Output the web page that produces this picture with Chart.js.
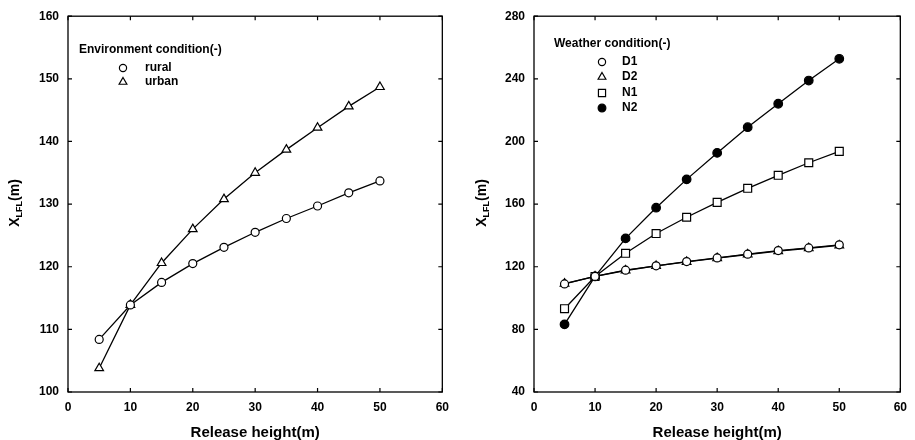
<!DOCTYPE html>
<html><head><meta charset="utf-8">
<script src="https://cdn.jsdelivr.net/npm/chart.js@4"></script>
<style>
html,body{margin:0;padding:0;background:#fff;}
#wrap{position:relative;width:915px;height:440px;overflow:hidden;}
.c{position:absolute;top:0;height:440px;}
</style></head><body>
<div id="wrap">
<div class="c" style="left:0;width:457px;"><canvas id="c1"></canvas></div>
<div class="c" style="left:457px;width:458px;"><canvas id="c2"></canvas></div>
</div>
<script>
// ---- data ----
const releaseHeights = [5, 10, 15, 20, 25, 30, 35, 40, 45, 50];
const rural = [108.4, 113.9, 117.5, 120.5, 123.1, 125.5, 127.7, 129.7, 131.8, 133.7];
const urban = [103.8, 113.9, 120.6, 126.0, 130.8, 135.0, 138.7, 142.2, 145.6, 148.7];
const weatherD1 = [109.0, 113.8, 117.8, 120.6, 123.3, 125.6, 128.0, 130.3, 132.0, 134.0];
const weatherD2 = [109.2, 113.8, 117.6, 120.5, 123.1, 125.5, 127.8, 130.0, 131.8, 133.6];
const weatherN1 = [93.2, 113.8, 128.6, 141.2, 151.6, 161.1, 170.1, 178.4, 186.4, 193.7];
const weatherN2 = [83.2, 113.8, 138.1, 157.7, 175.8, 192.7, 209.1, 224.1, 238.9, 252.8];
const xTicks = [0, 10, 20, 30, 40, 50, 60];
const leftYTicks = [100, 110, 120, 130, 140, 150, 160];
const rightYTicks = [40, 80, 120, 160, 200, 240, 280];
const xTitle = 'Release height(m)';
const leftLegendTitle = 'Environment condition(-)';
const rightLegendTitle = 'Weather condition(-)';

const FONT = '"Liberation Sans", Arial, Helvetica, sans-serif';

function pts(ys) { return releaseHeights.map((x, i) => ({x: x, y: ys[i]})); }

function ds(label, ys, style, radius, filled) {
  return {
    label: label, data: pts(ys), showLine: true,
    borderColor: '#000', borderWidth: 1.3,
    pointStyle: style, pointRadius: radius, pointHoverRadius: radius,
    pointBorderColor: '#000', pointBorderWidth: 1.2,
    pointBackgroundColor: filled ? '#000' : '#fff',
    backgroundColor: filled ? '#000' : '#fff',
    fill: false, tension: 0, clip: false
  };
}

function drawMarker(ctx, style, radius, filled, x, y) {
  ctx.save();
  ctx.fillStyle = filled ? '#000' : '#fff';
  ctx.strokeStyle = '#000';
  ctx.lineWidth = 1.2;
  Chart.helpers.drawPoint(ctx, {pointStyle: style, radius: radius, rotation: 0, borderWidth: 1.2}, x, y);
  ctx.restore();
}

function makeChart(id, opt) {
  const framePlugin = {
    id: 'frame' + id,
    afterDraw(chart) {
      const ctx = chart.ctx, a = chart.chartArea;
      const xs = chart.scales.x, ysc = chart.scales.y;
      ctx.save();
      ctx.strokeStyle = '#000';
      ctx.lineWidth = 1.3;
      ctx.strokeRect(a.left, a.top, a.right - a.left, a.bottom - a.top);
      ctx.lineWidth = 1.2;
      const tl = 4;
      ctx.beginPath();
      opt.xTicks.forEach(v => {
        const px = xs.getPixelForValue(v);
        ctx.moveTo(px, a.bottom); ctx.lineTo(px, a.bottom - tl);
        ctx.moveTo(px, a.top); ctx.lineTo(px, a.top + tl);
      });
      opt.yTicks.forEach(v => {
        const py = ysc.getPixelForValue(v);
        ctx.moveTo(a.left, py); ctx.lineTo(a.left + tl, py);
        ctx.moveTo(a.right, py); ctx.lineTo(a.right - tl, py);
      });
      ctx.stroke();

      // y title with subscript
      ctx.translate(opt.yTitleX, opt.yTitleY);
      ctx.rotate(-Math.PI / 2);
      ctx.fillStyle = '#000';
      ctx.textBaseline = 'middle';
      const f1 = 'bold 14px ' + FONT, f2 = 'bold 9px ' + FONT;
      ctx.font = f1; const w1 = ctx.measureText('X').width;
      ctx.font = f2; const w2 = ctx.measureText('LFL').width;
      ctx.font = f1; const w3 = ctx.measureText('(m)').width;
      let sx = -(w1 + w2 + w3) / 2;
      ctx.textAlign = 'left';
      ctx.font = f1; ctx.fillText('X', sx, 0); sx += w1;
      ctx.font = f2; ctx.fillText('LFL', sx, 5); sx += w2;
      ctx.font = f1; ctx.fillText('(m)', sx, 0);
      ctx.restore();

      // legend
      ctx.save();
      ctx.fillStyle = '#000';
      ctx.textBaseline = 'middle';
      ctx.textAlign = 'left';
      ctx.font = 'bold 12px ' + FONT;
      ctx.fillText(opt.legend.title, opt.legend.titleX, opt.legend.titleY);
      const dsets = chart.data.datasets;
      dsets.forEach((d, i) => {
        const y = opt.legend.itemY[i];
        drawMarker(ctx, d.pointStyle, d.pointRadius * 0.9, d.pointBackgroundColor === '#000', opt.legend.markerX, y);
        ctx.fillStyle = '#000';
        ctx.font = 'bold 12px ' + FONT;
        ctx.fillText(d.label, opt.legend.labelX, y);
      });
      ctx.restore();
    }
  };

  return new Chart(document.getElementById(id), {
    type: 'scatter',
    data: { datasets: opt.datasets },
    options: {
      responsive: true, maintainAspectRatio: false, animation: false,
      layout: { padding: opt.padding },
      plugins: { legend: { display: false }, tooltip: { enabled: false } },
      scales: {
        x: {
          type: 'linear', min: 0, max: 60,
          afterBuildTicks(s) { s.ticks = opt.xTicks.map(v => ({value: v})); },
          ticks: { padding: 8, color: '#000', font: { family: FONT, size: 12, weight: 'bold' } },
          grid: { display: false, drawTicks: false, tickLength: 0 }, border: { display: false },
          title: { display: true, text: xTitle, color: '#000', font: { family: FONT, size: 15, weight: 'bold' }, padding: { top: 0, bottom: -2 } },
          afterFit(s) { s.height = 48; }
        },
        y: {
          type: 'linear', min: opt.yTicks[0], max: opt.yTicks[opt.yTicks.length - 1],
          afterBuildTicks(s) { s.ticks = opt.yTicks.map(v => ({value: v})); },
          ticks: { padding: 9, color: '#000', font: { family: FONT, size: 12, weight: 'bold' } },
          grid: { display: false, drawTicks: false, tickLength: 0 }, border: { display: false },
          afterFit(s) { s.width = opt.yWidth; }
        }
      }
    },
    plugins: [framePlugin]
  });
}

makeChart('c1', {
  datasets: [
    ds('rural', rural, 'circle', 4, false),
    ds('urban', urban, 'triangle', 5, false)
  ],
  xTicks: xTicks, yTicks: leftYTicks,
  padding: { left: 0, top: 13, right: 12, bottom: 0 },
  yWidth: 68,
  yTitleX: 15, yTitleY: 203,
  legend: { title: leftLegendTitle, titleX: 79, titleY: 50, markerX: 123, labelX: 145, itemY: [68, 82] }
});

makeChart('c2', {
  datasets: [
    ds('D1', weatherD1, 'circle', 4, false),
    ds('D2', weatherD2, 'triangle', 5, false),
    ds('N1', weatherN1, 'rect', 5.6, false),
    ds('N2', weatherN2, 'circle', 4.3, true)
  ],
  xTicks: xTicks, yTicks: rightYTicks,
  padding: { left: 0, top: 13, right: 10, bottom: 0 },
  yWidth: 77,
  yTitleX: 25, yTitleY: 203,
  legend: { title: rightLegendTitle, titleX: 97, titleY: 44, markerX: 145, labelX: 165, itemY: [62, 77, 93, 108] }
});
</script>
</body></html>
